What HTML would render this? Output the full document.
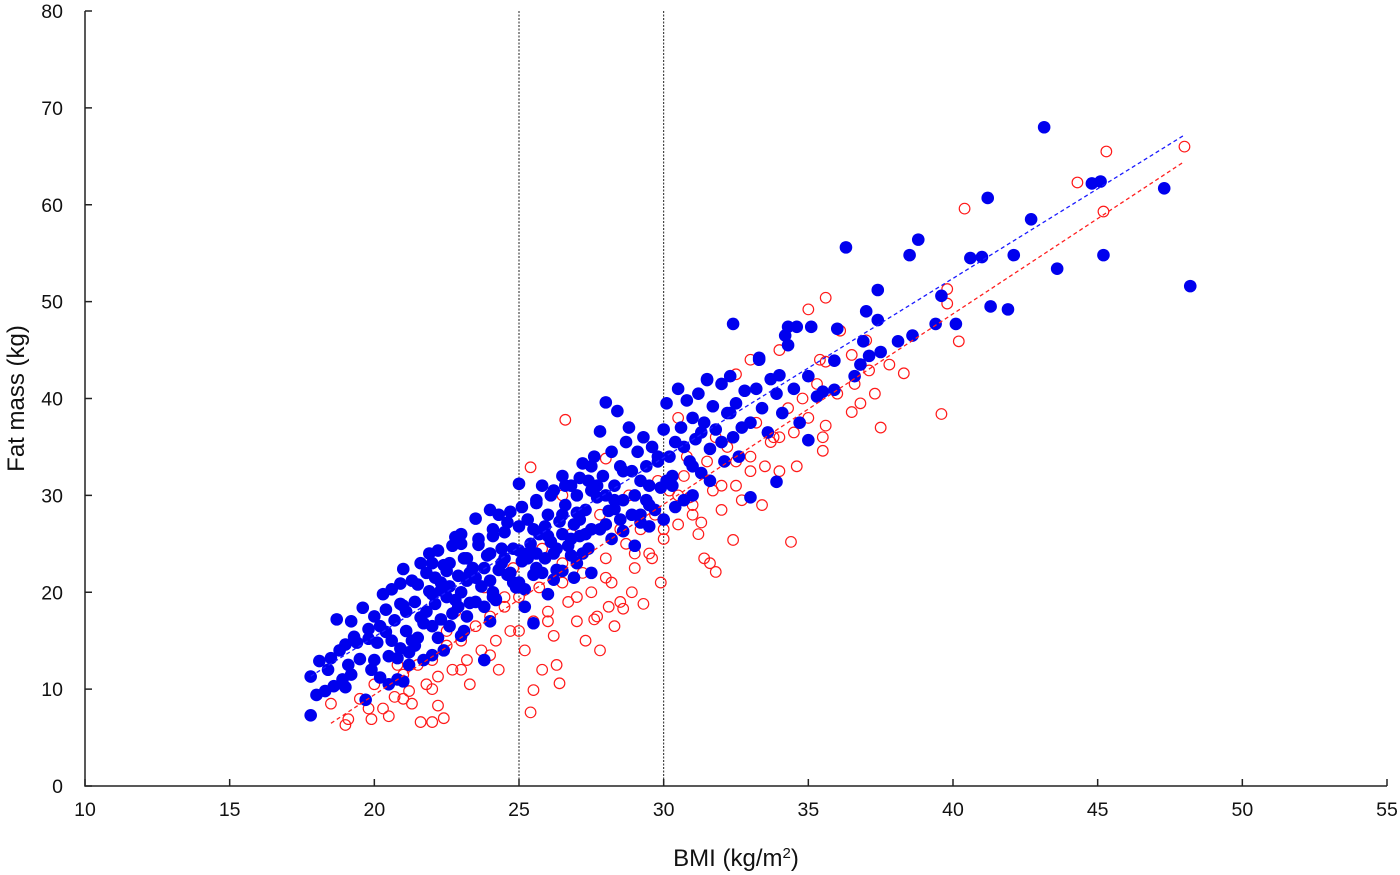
<!DOCTYPE html>
<html><head><meta charset="utf-8"><style>
html,body{margin:0;padding:0;background:#fff;}
svg{display:block;font-family:"Liberation Sans",sans-serif;}
</style></head><body>
<svg id="chart" width="1400" height="875"></svg>
<script>
const xTicks=[10,15,20,25,30,35,40,45,50,55];
const yTicks=[0,10,20,30,40,50,60,70,80];
const refLines=[25,30];
const blueTrend=[17.8,48,1.85,-21.6];
const redTrend=[18.5,48,1.966,-29.9];
const blueX=[43.15,47.3,48.2,44.8,45.1,45.2,43.6,42.7,42.1,41.2,41.3,41.9,40.6,41.0,40.1,39.6,39.4,38.8,38.5,36.3,37.4,38.6,38.1,37.0,37.4,36.0,36.9,36.8,37.1,37.5,35.9,36.6,35.1,34.6,34.3,34.2,32.4,35.0,33.9,33.0,35.5,35.9,34.0,33.3,31.5,
17.8,17.8,18.0,18.1,18.3,18.5,18.7,18.8,18.9,19.0,19.1,19.2,19.3,19.5,19.6,19.7,19.8,19.9,20.0,20.1,20.2,20.3,20.4,20.5,20.6,20.7,20.8,20.9,21.0,21.0,21.1,21.2,21.3,21.4,21.5,21.6,21.7,21.8,21.9,22.0,22.1,22.2,22.3,22.4,22.5,22.6,22.7,22.8,22.9,23.0,23.1,23.2,23.3,23.4,23.5,23.6,23.7,23.8,23.9,24.0,24.1,24.2,24.3,24.4,24.5,24.6,24.7,24.8,24.9,25.0,25.0,25.1,25.2,25.3,25.4,25.5,25.6,25.7,25.8,25.9,26.0,26.1,26.2,26.3,26.4,26.5,26.6,26.7,26.8,26.9,27.0,27.1,27.2,27.3,27.4,27.5,27.6,27.7,27.8,27.9,28.0,28.1,28.2,28.3,28.4,28.5,28.6,28.7,28.8,28.9,29.0,29.1,29.2,29.3,29.4,29.5,29.6,29.7,29.8,29.9,30.0,30.1,30.2,30.3,30.4,30.5,30.6,30.7,30.8,30.9,31.0,31.1,31.2,31.3,31.4,31.5,31.6,31.7,31.8,32.0,32.1,32.2,32.3,32.4,32.5,32.6,32.8,33.0,33.2,33.3,33.4,33.6,33.7,33.9,34.1,34.3,34.5,34.7,35.0,35.3,
21.5,22.0,22.5,23.0,23.5,24.0,24.5,25.0,25.5,26.0,26.5,27.0,27.5,28.0,28.5,22.0,21.0,20.5,23.0,24.0,25.5,26.0,26.5,27.0,27.5,29.0,30.0,31.0,29.5,
21.8,22.3,22.8,23.3,23.8,24.3,24.8,25.3,25.8,26.3,26.8,27.3,27.8,28.3,20.8,21.3,19.4,20.9,22.6,24.1,25.6,26.9,28.6,29.4,30.3,
20.2,20.6,21.1,21.4,21.7,22.0,22.3,22.6,22.9,23.2,23.5,23.8,24.1,24.4,24.7,25.0,25.3,25.6,25.9,26.2,26.5,26.8,27.1,27.4,27.7,28.0,28.3,28.6,28.9,29.2,29.5,29.8,30.1,30.4,30.7,31.0,31.3,31.6,32.0,32.3,32.7,22.1,23.1,24.1,25.1,26.1,27.1,21.2,22.2,23.2,24.2,25.2,26.2,27.2,28.2,29.2,20.0,19.2,18.6,18.4,19.0,19.8,20.4,21.6,22.4,23.6,24.6,25.6,26.6,27.5,24.0,23.0,22.7,21.9,20.9];
const blueY=[68.0,61.7,51.6,62.2,62.4,54.8,53.4,58.5,54.8,60.7,49.5,49.2,54.5,54.6,47.7,50.6,47.7,56.4,54.8,55.6,51.2,46.5,45.9,49.0,48.1,47.2,45.9,43.5,44.4,44.8,43.9,42.3,47.4,47.4,47.4,46.5,47.7,35.7,31.4,29.8,40.7,40.9,42.4,44.2,41.9,
7.3,11.3,9.4,12.9,9.8,13.2,17.2,14.0,11.0,10.2,12.5,17.0,15.4,13.1,18.4,8.9,16.2,12.0,17.5,14.8,11.2,19.8,15.9,13.4,20.3,17.1,11.0,14.2,22.4,18.6,16.0,12.5,21.2,19.0,15.3,17.4,13.0,22.0,20.1,16.5,18.8,24.3,21.0,14.0,19.5,23.0,17.8,25.7,21.7,20.0,16.0,23.5,18.9,22.5,27.6,24.9,20.6,13.0,23.8,21.2,25.8,19.3,28.0,23.0,26.2,21.8,28.3,24.5,20.5,31.2,26.8,23.2,18.5,27.5,25.0,21.8,29.2,26.0,31.0,23.5,28.0,25.2,30.5,22.3,27.3,32.0,29.0,24.8,31.0,27.0,30.0,25.8,33.3,28.5,31.5,26.5,34.0,29.8,36.6,32.0,39.6,28.4,34.5,31.0,38.7,33.0,29.5,35.5,37.0,32.5,30.0,34.5,28.0,36.0,33.0,31.0,35.0,28.5,33.5,30.8,36.8,39.5,34.0,32.0,28.8,41.0,37.0,35.0,39.8,33.5,38.0,35.8,40.5,32.3,37.5,42.0,34.8,39.2,36.8,41.5,33.5,38.5,42.3,36.0,39.5,34.0,40.8,37.5,41.0,44.0,39.0,36.5,42.0,40.5,38.5,45.5,41.0,37.5,42.3,40.2,
20.8,23.0,22.2,25.0,21.5,24.0,23.5,24.3,26.5,25.8,26.0,28.2,30.5,30.0,27.5,13.5,10.8,10.5,15.5,17.0,16.8,19.8,22.2,23.0,22.0,24.8,27.5,30.0,26.8,
18.0,20.2,19.2,22.0,18.5,22.3,21.0,23.5,22.0,24.5,23.8,26.0,26.5,28.6,13.2,15.0,14.8,18.8,16.5,19.5,24.0,21.5,26.3,29.5,31.0,
16.5,15.0,18.0,14.5,16.8,19.8,17.2,20.6,18.5,21.2,19.0,22.5,20.0,24.5,22.0,21.0,24.0,22.5,26.8,24.0,28.0,25.5,27.5,24.5,31.0,27.0,29.5,32.5,28.0,31.5,29.0,34.0,31.5,35.5,29.5,33.0,36.5,31.5,35.5,38.5,37.0,21.5,23.5,26.5,28.8,30.0,31.8,13.8,15.3,17.5,19.2,20.3,21.3,24.0,25.5,27.2,13.0,11.5,10.3,12.0,14.6,15.2,18.2,23.0,22.8,25.5,27.2,29.5,31.0,33.0,28.5,26.0,24.8,24.0,20.9];
const redX=[48.0,45.3,44.3,45.2,40.4,39.8,39.8,40.2,39.6,38.3,37.5,37.1,36.5,35.6,35.0,36.1,35.4,35.6,35.5,34.4,32.4,31.8,31.6,29.3,26.6,25.4,25.4,25.5,26.4,19.0,19.1,19.9,20.5,21.6,22.0,22.4,22.2,18.5,
19.5,20.0,20.3,20.7,21.0,21.2,21.5,21.8,22.0,22.2,22.5,22.7,23.0,23.2,23.5,23.7,24.0,24.2,24.5,24.7,25.0,25.2,25.5,25.7,26.0,26.2,26.5,26.7,27.0,27.2,27.5,27.7,28.0,28.2,28.5,28.7,29.0,29.2,29.5,29.7,30.0,30.2,30.5,30.7,31.0,31.2,31.5,31.7,32.0,32.2,32.5,32.7,33.0,33.2,33.5,33.7,34.0,34.3,34.5,34.8,35.0,35.3,35.6,36.0,36.5,37.0,22.8,23.8,24.8,25.8,26.8,27.8,28.8,29.8,30.8,31.8,26.3,27.3,28.3,24.3,23.3,21.3,20.8,26.5,28.0,30.5,32.5,
27.6,28.1,28.9,29.6,30.9,31.3,33.8,34.6,36.8,37.3,
21.0,22.0,23.0,24.0,25.0,26.0,27.0,28.0,29.0,30.0,31.0,32.0,33.0,34.0,22.5,24.5,26.5,28.5,30.5,32.5,19.8,25.8,27.8,28.6,29.9,31.4,33.4,35.5,36.6,37.8,33.0,34.0];
const redY=[66.0,65.5,62.3,59.3,59.6,51.3,49.8,45.9,38.4,42.6,37.0,42.9,38.6,50.4,49.2,47.0,44.0,37.2,34.6,25.2,25.4,22.1,23.0,18.8,37.8,32.9,7.6,9.9,10.6,6.3,6.9,6.9,7.2,6.6,6.6,7.0,8.3,8.5,
9.0,10.5,8.0,9.2,11.5,9.8,12.5,10.5,13.0,11.3,14.5,12.0,15.0,13.0,16.5,14.0,17.5,15.0,18.5,16.0,19.5,14.0,17.0,20.5,18.0,15.5,21.0,19.0,17.0,22.0,20.0,17.5,23.5,21.0,19.0,25.0,22.5,26.5,24.0,28.0,25.5,30.5,27.0,32.0,29.0,26.0,33.5,30.5,28.5,35.0,31.0,29.5,34.0,37.5,33.0,35.5,32.5,39.0,36.5,40.0,38.0,41.5,43.8,40.5,44.5,46.0,18.0,20.5,22.5,24.5,26.0,28.0,30.0,31.5,34.0,36.0,12.5,15.0,16.5,12.0,10.5,8.5,12.5,30.0,33.8,38.0,42.5,
17.2,18.5,20.0,23.5,29.8,27.2,36.0,33.0,39.5,40.5,
9.0,10.0,12.0,13.5,16.0,17.0,19.5,21.5,24.0,26.5,28.0,31.0,32.5,36.0,16.0,19.5,23.0,26.5,30.0,33.5,8.0,12.0,14.0,18.3,21.0,23.5,29.0,36.0,41.5,43.5,44.0,45.0];

const NS='http://www.w3.org/2000/svg';
const svg=document.getElementById('chart');
const X0=85,X1=1387,Y0=786,Y1=11;
function sx(v){return X0+(v-10)/45*(X1-X0);}
function sy(v){return Y0-v/80*(Y0-Y1);}
function mk(tag,attrs,parent){const e=document.createElementNS(NS,tag);for(const k in attrs)e.setAttribute(k,attrs[k]);(parent||svg).appendChild(e);return e;}

const ax=mk('path',{d:`M${X0},${Y1} V${Y0} H${X1}`,fill:'none',stroke:'#222','stroke-width':1.5});


xTicks.forEach(t=>{
  const l=mk('line',{x1:sx(t),x2:sx(t),y1:Y0,y2:Y0-7,stroke:'#222','stroke-width':1.5});
  
  
  const tx=mk('text',{x:sx(t),y:Y0+30,'text-anchor':'middle','font-size':19.5,fill:'#111'});
  tx.textContent=t;
  
  
});
yTicks.forEach(t=>{
  const l=mk('line',{x1:X0,x2:X0+7,y1:sy(t),y2:sy(t),stroke:'#222','stroke-width':1.5});
  
  
  const tx=mk('text',{x:X0-22,y:sy(t)+7,'text-anchor':'end','font-size':19.5,fill:'#111'});
  tx.textContent=t;
  
  
});
refLines.forEach(r=>{
  const l=mk('line',{x1:sx(r),x2:sx(r),y1:Y1,y2:Y0,stroke:'#222','stroke-width':1,'stroke-dasharray':'2,1.5'});
  
  
});
const xt=mk('text',{x:(X0+X1)/2,y:866,'text-anchor':'middle','font-size':24,fill:'#111'});
xt.innerHTML='BMI (kg/m<tspan baseline-shift="super" font-size="15">2</tspan>)';


const yt=mk('text',{x:0,y:0,'text-anchor':'middle','font-size':24,fill:'#111',transform:`translate(24,${(Y0+Y1)/2}) rotate(-90)`});
yt.textContent='Fat mass (kg)';



redX.forEach((x,i)=>{
  const c=mk('circle',{cx:sx(x),cy:sy(redY[i]),r:5.3,fill:'none',stroke:'#ff1a1a','stroke-width':1.2});
  
  
});
blueX.forEach((x,i)=>{
  const c=mk('circle',{cx:sx(x),cy:sy(blueY[i]),r:6.3,fill:'#0000ee'});
  
  
});
[[blueTrend,'#1a1aff','blue-trend-line'],[redTrend,'#ff2020','red-trend-line']].forEach(([t,col,n])=>{
  const l=mk('line',{x1:sx(t[0]),y1:sy(t[2]*t[0]+t[3]),x2:sx(t[1]),y2:sy(t[2]*t[1]+t[3]),stroke:col,'stroke-width':1.3,'stroke-dasharray':'4,3'});
  
  
});
</script>
</body></html>
